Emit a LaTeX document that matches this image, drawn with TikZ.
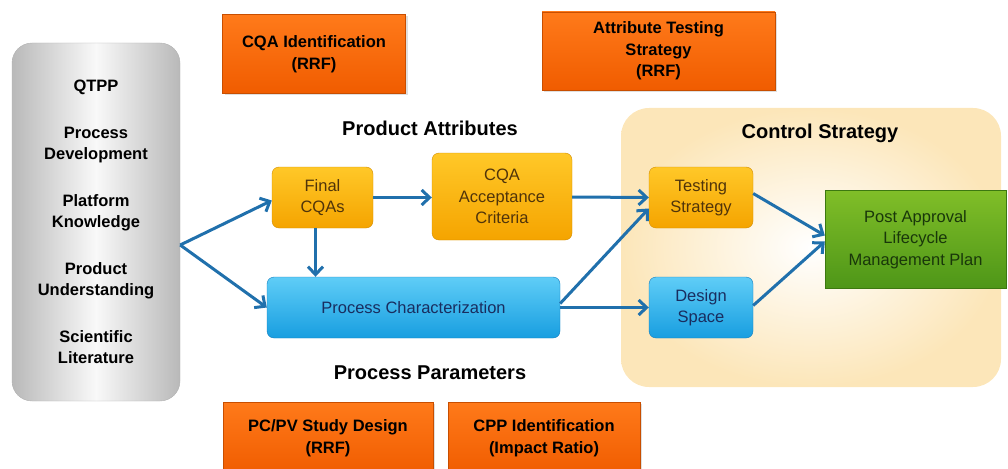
\documentclass[tikz,border=0pt]{standalone}
\usepackage{fontspec}
\setmainfont{Liberation Sans}
\usetikzlibrary{arrows.meta,shadows,positioning,calc}
\definecolor{rrftop}{RGB}{255,122,26}
\definecolor{rrfbot}{RGB}{240,92,0}
\definecolor{rrfedge}{RGB}{200,78,0}
\definecolor{attrtop}{RGB}{255,200,40}
\definecolor{attrbot}{RGB}{245,164,0}
\definecolor{attredge}{RGB}{210,140,0}
\definecolor{attrtext}{RGB}{80,52,10}
\definecolor{parmtop}{RGB}{95,205,247}
\definecolor{parmbot}{RGB}{24,158,224}
\definecolor{parmedge}{RGB}{20,125,190}
\definecolor{parmtext}{RGB}{25,45,95}
\definecolor{plantop}{RGB}{128,190,40}
\definecolor{planbot}{RGB}{78,150,24}
\definecolor{planedge}{RGB}{60,120,16}
\definecolor{plantext}{RGB}{25,55,10}
\definecolor{ctrlcream}{RGB}{252,230,185}
\definecolor{arrowblue}{RGB}{32,112,172}
\newcommand{\titlefont}{\fontsize{20}{24}\selectfont\bfseries}
\newcommand{\labelfont}{\fontsize{16.5}{21.5}\selectfont\bfseries}
\newcommand{\boxfont}{\fontsize{16.5}{21.5}\selectfont}
\begin{document}
\begin{tikzpicture}[x=1pt,y=-1pt]
\tikzstyle{main}=[rectangle, align=center, inner sep=2pt]
\tikzstyle{rrf}=[main, draw=rrfedge, top color=rrftop, bottom color=rrfbot, font=\labelfont, drop shadow={opacity=0.25, shadow xshift=2pt, shadow yshift=-2pt}]
\tikzstyle{attr}=[main, rounded corners=7pt, draw=attredge, top color=attrtop, bottom color=attrbot, text=attrtext, font=\boxfont]
\tikzstyle{parm}=[attr, draw=parmedge, top color=parmtop, bottom color=parmbot, text=parmtext]
\tikzstyle{plan}=[main, draw=planedge, top color=plantop, bottom color=planbot, text=plantext, font=\boxfont]
\tikzstyle{source}=[main, rounded corners=20pt, draw=gray!60, left color=gray!55, right color=gray!55, middle color=gray!5, font=\labelfont]
\tikzstyle{ctrlbg}=[main, rounded corners=28pt, inner color=white, outer color=ctrlcream]
\tikzstyle{title}=[font=\titlefont]
\tikzstyle{connect}=[-{Straight Barb[length=8pt, width=15pt]}, line width=3pt, draw=arrowblue]

  \useasboundingbox (0,0) rectangle (1008,468);

  % background areas
  \node[ctrlbg] (ctrl)     at (811,247.5) [minimum width=380, minimum height=279] {};
  \node[title]  (ctrltitle) at (820,133) {Control Strategy};
  \node[source] (sources)  at (96,222) [minimum width=168, minimum height=358]
    {QTPP\\[25pt] Process\\Development\\[25pt] Platform\\Knowledge\\[25pt]
     Product\\Understanding\\[25pt] Scientific\\Literature};

  % risk ranking boxes
  \node[rrf] (cqaid)   at (314,54)    [minimum width=183, minimum height=79] {CQA Identification\\(RRF)};
  \node[rrf] (attrtst) at (658.5,51)  [minimum width=233, minimum height=78] {Attribute Testing\\Strategy\\(RRF)};
  \node[rrf] (pcpv)    at (328,438)   [minimum width=210, minimum height=72] {PC/PV Study Design\\(RRF)};
  \node[rrf] (cppid)   at (544,438)   [minimum width=192, minimum height=72] {CPP Identification\\(Impact Ratio)};

  \node[title] (prodattr) at (430,128) {Product Attributes};
  \node[title] (procparm) at (430,373) {Process Parameters};

  % flow boxes
  \node[attr] (final)   at (322.5,197.5) [minimum width=101, minimum height=61] {Final\\CQAs};
  \node[attr] (accept)  at (502,196.5)   [minimum width=140, minimum height=87] {CQA\\Acceptance\\Criteria};
  \node[parm] (charac)  at (413.5,307.5) [minimum width=293, minimum height=61] {Process Characterization};
  \node[attr] (testing) at (701,197.5)   [minimum width=104, minimum height=61] {Testing\\Strategy};
  \node[parm] (design)  at (701,307.5)   [minimum width=104, minimum height=61] {Design\\Space};
  \node[plan] (post)    at (915.5,239.5) [minimum width=181, minimum height=98] {Post Approval\\Lifecycle\\Management Plan};

  \coordinate (src) at ([yshift=-23pt]sources.east);

  \draw[connect] (src) -- ([yshift=-3pt]final.west);
  \draw[connect] (src) -- (charac.west);
  \draw[connect] (final.east) -- (final.east -| accept.west);
  \draw[connect] ([xshift=-7pt]final.south) -- ([xshift=-7pt]final.south |- charac.north);
  \draw[connect] ([yshift=-0.5pt]accept.east) -- (testing.west);
  \draw[connect] ([yshift=4pt]charac.east) -- ([yshift=-11pt]testing.west);
  \draw[connect] (charac.east) -- (design.west);
  \draw[connect] ([yshift=4pt]testing.east) -- ([yshift=4pt]post.west);
  \draw[connect] ([yshift=2pt]design.east) -- ([yshift=-2pt]post.west);

\end{tikzpicture}
\end{document}
